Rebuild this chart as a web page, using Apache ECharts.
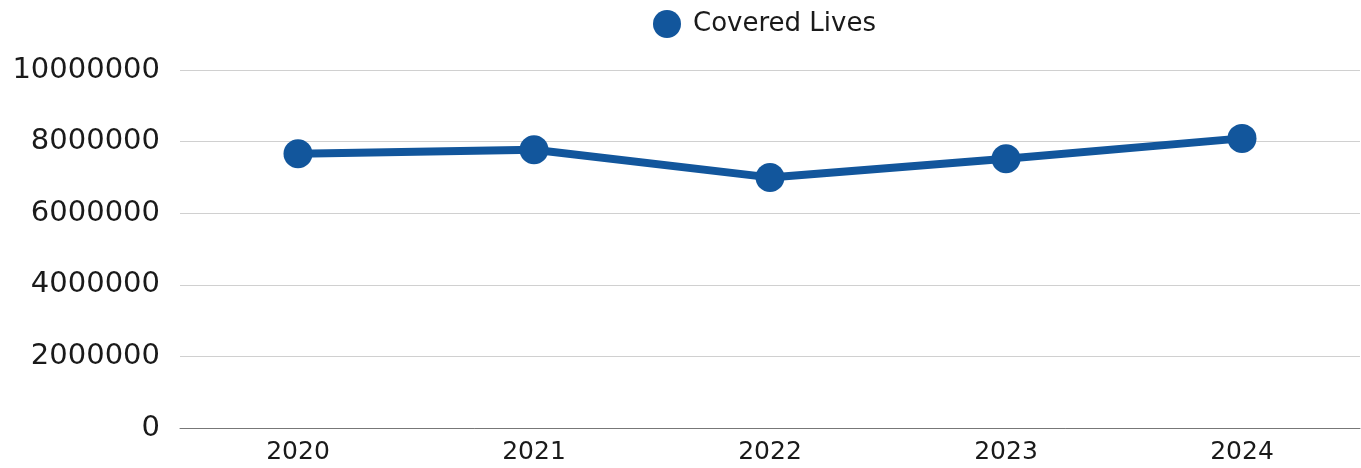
<!DOCTYPE html>
<html>
<head>
<meta charset="utf-8">
<script src="https://cdn.jsdelivr.net/npm/echarts@6/dist/echarts.min.js"></script>
<style>html,body{margin:0;padding:0;background:#fff;}#c{width:1361px;height:468px;}</style>
</head>
<body>
<div id="c"></div>
<script>
const categories = ['2020', '2021', '2022', '2023', '2024'];
const coveredLives = [7660000, 7770000, 7000000, 7520000, 8090000];
const seriesName = 'Covered Lives';

const chart = echarts.init(document.getElementById('c'), null, {renderer: 'canvas'});
chart.setOption({
  animation: false,
  color: ['#12569c'],
  textStyle: {fontFamily: 'DejaVu Sans'},
  legend: {
    top: 5, left: 648,
    icon: 'circle', itemWidth: 28, itemHeight: 28, itemGap: 10,
    textStyle: {fontSize: 26, color: '#1a1a1a', fontFamily: 'DejaVu Sans', padding: [0, 0, 0, 7]},
    data: [seriesName]
  },
  grid: {left: 180, right: 1, top: 70, bottom: 40, containLabel: false},
  xAxis: {
    type: 'category', data: categories, boundaryGap: true,
    axisLine: {lineStyle: {color: '#777', width: 1}},
    axisTick: {show: false},
    axisLabel: {fontSize: 25, color: '#1a1a1a', margin: 12, fontFamily: 'DejaVu Sans'}
  },
  yAxis: {
    type: 'value', min: 0, max: 10000000, interval: 2000000,
    axisLine: {show: false}, axisTick: {show: false},
    splitLine: {lineStyle: {color: '#d0d0d0', width: 1}},
    axisLabel: {fontSize: 29, color: '#1a1a1a', margin: 20, fontFamily: 'DejaVu Sans',
      formatter: function (v) { return String(v); }}
  },
  series: [{
    name: seriesName, type: 'line', data: coveredLives,
    symbol: 'circle', symbolSize: 29,
    lineStyle: {width: 8, color: '#12569c'},
    itemStyle: {color: '#12569c'}
  }]
});
</script>
</body>
</html>
